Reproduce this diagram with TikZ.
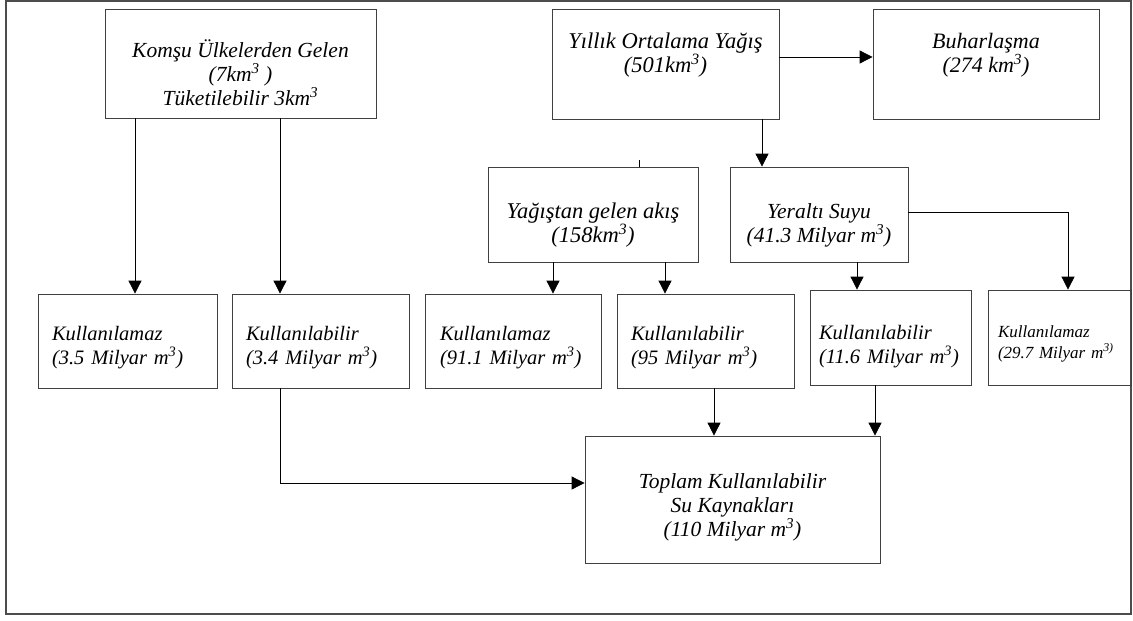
\documentclass[tikz,border=0pt]{standalone}
\usepackage{fontspec}
\setmainfont{Liberation Serif}
\usetikzlibrary{arrows.meta}
\newcommand\yazi[1]{\fontsize{#1}{24}\selectfont\itshape}
\tikzset{
  kutu/.style={draw=black!75, line width=0.8pt, align=center, inner sep=0pt,
    font=\yazi{20.5}},
  solkutu/.style={kutu, align=left, inner xsep=14pt, text width=#1},
  satir/.style 2 args={text height=#1, text depth=#2},
  ok/.style={-{Triangle[length=13pt,width=13pt]}, line width=0.8pt}
}
\begin{document}
\begin{tikzpicture}[x=1pt,y=-1pt]
    \useasboundingbox (0,0) rectangle (1133,621);
    \draw[black!70, line width=1.2pt] (6,1) rectangle (1131,614);
    % ust sira
    \node[kutu, font=\yazi{21.5}, minimum width=271pt, minimum height=109pt, satir={96pt}{13pt}] (komsu) at (240.5,63.5) {Komşu Ülkelerden Gelen\\(7km\textsuperscript{3} )\\Tüketilebilir 3km\textsuperscript{3}};
    \node[kutu, font=\yazi{22.5}, minimum width=227pt, minimum height=110pt, satir={63pt}{47pt}] (yagis) at (665.5,64) {Yıllık Ortalama Yağış\\(501km\textsuperscript{3})};
    \node[kutu, font=\yazi{22}, minimum width=226pt, minimum height=110pt, satir={63pt}{47pt}] (buhar) at (986,64) {Buharlaşma\\(274 km\textsuperscript{3})};
    \node[kutu, font=\yazi{22.5}, minimum width=210pt, minimum height=95pt, satir={75pt}{20pt}] (akis) at (593,214.5) {Yağıştan gelen akış\\(158km\textsuperscript{3})};
    \node[kutu, font=\yazi{21.5}, minimum width=178pt, minimum height=95pt, satir={75pt}{20pt}] (yeralti) at (819,214.5) {Yeraltı Suyu\\(41.3 Milyar m\textsuperscript{3})};
    % alt sira
    \node[solkutu=151pt, minimum height=94pt, satir={46pt}{48pt}] (kmz1) at (127.5,341) {Kullanılamaz\\(3.5 Milyar m\textsuperscript{3})};
    \node[solkutu=149pt, minimum height=94pt, satir={46pt}{48pt}] (kbr1) at (320.5,341) {Kullanılabilir\\(3.4 Milyar m\textsuperscript{3})};
    \node[solkutu=146pt, inner xsep=15pt, minimum height=94pt, satir={46pt}{48pt}] (kmz2) at (513,341) {Kullanılamaz\\(91.1 Milyar m\textsuperscript{3})};
    \node[solkutu=149pt, minimum height=94pt, satir={46pt}{48pt}] (kbr2) at (705.5,341) {Kullanılabilir\\(95 Milyar m\textsuperscript{3})};
    \node[solkutu=143pt, inner xsep=9pt, minimum height=95pt, satir={49pt}{46pt}] (kbr3) at (890.5,337.5) {Kullanılabilir\\(11.6 Milyar m\textsuperscript{3})};
    \node[solkutu=123pt, inner xsep=10pt, minimum height=95pt, satir={47pt}{48pt}, font=\fontsize{17}{21}\selectfont\itshape] (kmz3) at (1059.5,337.5) {Kullanılamaz\\(29.7 Milyar m\textsuperscript{3)}};
    \node[kutu, font=\yazi{21.5}, minimum width=295pt, minimum height=127pt, satir={100pt}{27pt}] (toplam) at (732.5,499.5) {Toplam Kullanılabilir\\Su Kaynakları\\(110 Milyar m\textsuperscript{3})};
    % oklar
    \draw[ok] (komsu.south -| 135,0) -- (kmz1.north -| 135,0);
    \draw[ok] (komsu.south -| 280,0) -- (kbr1.north -| 280,0);
    \draw[ok] (yagis.east |- 0,57) -- (buhar.west |- 0,57);
    \draw[ok] (yagis.south -| 762,0) -- (yeralti.north -| 762,0);
    \draw[line width=0.8pt] (akis.north -| 639,0) -- ++(0,-7);
    \draw[ok] (akis.south -| 553,0) -- (kmz2.north -| 553,0);
    \draw[ok] (akis.south -| 665,0) -- (kbr2.north -| 665,0);
    \draw[ok] (yeralti.south -| 857,0) -- (kbr3.north -| 857,0);
    \draw[ok] (yeralti.east |- 0,212) -| (kmz3.north -| 1068,0);
    \draw[ok] (kbr1.south -| 280,0) |- (toplam.west |- 0,483);
    \draw[ok] (kbr2.south -| 714,0) -- (toplam.north -| 714,0);
    \draw[ok] (kbr3.south -| 875,0) -- (toplam.north -| 875,0);
\end{tikzpicture}
\end{document}
